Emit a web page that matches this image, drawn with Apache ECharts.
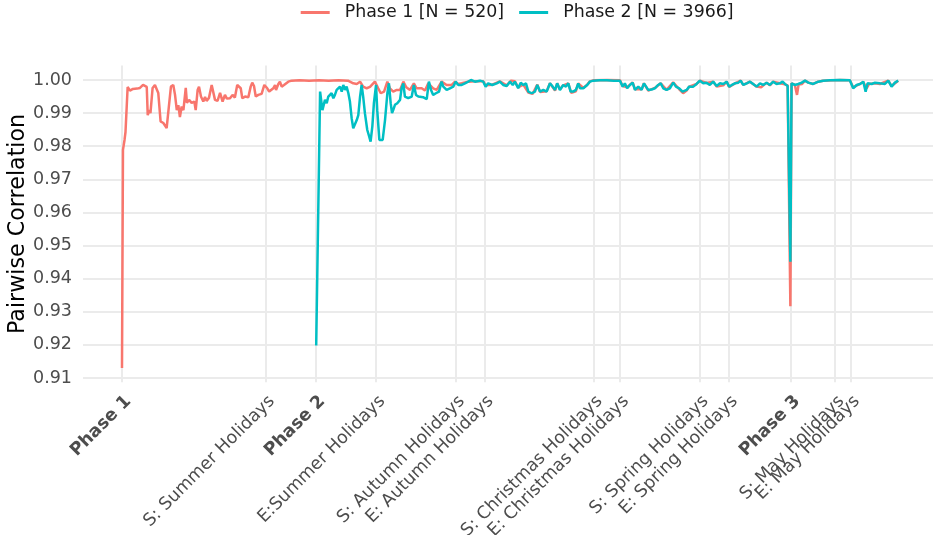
<!DOCTYPE html>
<html>
<head>
<meta charset="utf-8">
<style>
  html, body { margin: 0; padding: 0; background: #ffffff; }
  #chart { width: 933px; height: 535px; }
</style>
<script src="https://cdn.jsdelivr.net/npm/echarts@6.0.0/dist/echarts.min.js"></script>
</head>
<body>
<div id="chart"></div>
<script>
// Break positions on the time axis (days since the start of Phase 1) and their labels
const breakDays = [0, 73.7, 99.5, 130.3, 171.1, 185.8, 241.7, 255.4, 296.1, 311.1, 343.1, 365.8, 373.7];
const breakLabels = [
  'Phase 1', 'S: Summer Holidays', 'Phase 2', 'E:Summer Holidays',
  'S: Autumn Holidays', 'E: Autumn Holidays', 'S: Christmas Holidays', 'E: Christmas Holidays',
  'S: Spring Holidays', 'E: Spring Holidays', 'Phase 3', 'S: May Holidays', 'E: May Holidays'
];
const boldLabels = ['Phase 1', 'Phase 2', 'Phase 3'];
// Breaks whose labels sit on top of a neighbour and go on a second label row
const overlappingBreaks = ['S: May Holidays'];

// Correlation axis ticks
const corrTicks = [0.91, 0.92, 0.93, 0.94, 0.95, 0.96, 0.97, 0.98, 0.99, 1.00];

const seriesNames = ['Phase 1 [N = 520]', 'Phase 2 [N = 3966]'];
const seriesColors = ['#F8766D', '#00BFC4'];

// Phase 1 cohort: [day, pairwise correlation]
const phase1 = [
  [0, 0.9130], [0.5, 0.9789], [1.3, 0.9819], [1.8, 0.9843], [2.9, 0.9979], [4.1, 0.9968],
  [5.6, 0.9973], [7.7, 0.9974], [9.2, 0.9976], [10.8, 0.9985], [11.8, 0.9988], [12.7, 0.9979],
  [13.2, 0.9894], [14.0, 0.9909], [14.6, 0.9900], [15.7, 0.9976], [16.9, 0.9985], [17.9, 0.9988],
  [18.6, 0.9961], [19.8, 0.9875], [21.2, 0.9870], [22.1, 0.9876], [22.9, 0.9855], [23.8, 0.9858],
  [25.1, 0.9980], [26.3, 0.9985], [27.2, 0.9955], [28.1, 0.9909], [28.9, 0.9924], [29.7, 0.9888],
  [30.6, 0.9920], [31.5, 0.9909], [32.7, 0.9976], [33.3, 0.9931], [34.4, 0.9940], [35.7, 0.9931],
  [37.1, 0.9935], [37.8, 0.9909], [38.8, 0.9970], [39.5, 0.9980], [40.5, 0.9950], [41.7, 0.9935],
  [42.6, 0.9949], [43.4, 0.9937], [44.6, 0.9946], [46.0, 0.9985], [46.7, 0.9982], [47.7, 0.9940],
  [49.0, 0.9937], [50.3, 0.9961], [51.6, 0.9935], [52.8, 0.9955], [53.8, 0.9944], [55.4, 0.9945],
  [56.7, 0.9955], [57.9, 0.9947], [59.1, 0.9985], [60.0, 0.9990], [60.9, 0.9975], [61.7, 0.9945],
  [63.1, 0.9950], [64.8, 0.9948], [66.0, 0.9980], [66.8, 0.9992], [67.7, 0.9982], [68.6, 0.9950],
  [69.9, 0.9955], [71.6, 0.9958], [73.0, 0.9985], [73.7, 0.9990], [74.5, 0.9975], [75.5, 0.9965],
  [76.4, 0.9970], [77.6, 0.9975], [78.5, 0.9985], [79.0, 0.9970], [80.2, 0.9988], [81.0, 0.9995],
  [81.9, 0.9980], [83.1, 0.9985], [84.1, 0.9990], [85.3, 0.9995], [87.0, 0.9998], [91.0, 0.9999],
  [96.0, 0.9998], [101.0, 0.9999], [106.0, 0.9998], [111.0, 0.9999], [115.9, 0.9998], [118.6, 0.9990],
  [120.4, 0.9988], [122.1, 0.9995], [123.7, 0.9980], [125.5, 0.9975], [127.2, 0.9979], [129.7, 0.9995],
  [131.4, 0.9975], [132.7, 0.9960], [134.4, 0.9965], [136.1, 0.9995], [137.4, 0.9975], [139.1, 0.9965],
  [140.9, 0.9970], [142.6, 0.9970], [144.3, 0.9995], [145.8, 0.9978], [147.7, 0.9970], [149.7, 0.9990],
  [151.1, 0.9975], [153.7, 0.9975], [155.4, 0.9968], [157.1, 0.9990], [159.6, 0.9975], [161.4, 0.9970],
  [163.9, 0.9995], [166.5, 0.9985], [169.1, 0.9985], [170.8, 0.9995], [172.5, 0.9988], [174.2, 0.9990],
  [177.6, 0.9995], [181.0, 0.9996], [185.3, 0.9996], [186.5, 0.9984], [189.9, 0.9986], [193.8, 0.9996],
  [197.3, 0.9984], [199.5, 0.9998], [201.5, 0.9996], [203.2, 0.9978], [205.8, 0.9986], [208.4, 0.9962],
  [210.6, 0.9958], [213.0, 0.9986], [214.4, 0.9964], [217.8, 0.9966], [219.5, 0.9990], [222.1, 0.9968],
  [223.2, 0.9990], [224.6, 0.9972], [226.3, 0.9984], [228.9, 0.9990], [230.4, 0.9961], [232.8, 0.9966],
  [234.0, 0.9990], [236.6, 0.9976], [238.6, 0.9986], [240.0, 0.9996], [241.7, 0.9999], [248.7, 1.0000],
  [255.4, 0.9999], [256.8, 0.9982], [259.1, 0.9978], [261.9, 0.9993], [263.1, 0.9972], [266.5, 0.9972],
  [267.7, 0.9990], [269.9, 0.9968], [273.3, 0.9976], [276.3, 0.9990], [279.3, 0.9970], [282.7, 0.9993],
  [285.8, 0.9972], [287.8, 0.9960], [289.6, 0.9968], [290.9, 0.9980], [294.7, 0.9988], [296.4, 0.9998],
  [299.8, 0.9991], [303.2, 0.9995], [305.0, 0.9980], [308.4, 0.9984], [310.1, 0.9995], [311.4, 0.9979],
  [314.4, 0.9990], [317.3, 0.9998], [318.6, 0.9985], [322.1, 0.9995], [325.5, 0.9980], [327.8, 0.9978],
  [330.6, 0.9992], [332.3, 0.9984], [334.0, 0.9995], [337.4, 0.9990], [340.0, 0.9987], [341.4, 0.9984],
  [342.3, 0.9988], [342.8, 0.9317], [343.4, 0.9990], [345.1, 0.9985], [346.2, 0.9955], [347.0, 0.9986],
  [348.8, 0.9988], [350.3, 0.9998], [352.0, 0.9992], [354.5, 0.9988], [355.3, 0.9984], [357.1, 0.9995],
  [359.6, 0.9998], [368.2, 1.0000], [373.3, 0.9999], [375.0, 0.9978], [378.5, 0.9988], [380.2, 0.9994],
  [381.9, 0.9975], [383.2, 0.9988], [386.2, 0.9990], [388.7, 0.9988], [393.0, 0.9998], [394.7, 0.9982],
  [398.1, 0.9998]
];

// Phase 2 cohort: [day, pairwise correlation]
const phase2 = [
  [99.6, 0.9198], [101.6, 0.9965], [102.8, 0.9909], [104.1, 0.9940], [105.0, 0.9930], [105.8, 0.9950],
  [106.7, 0.9955], [107.5, 0.9960], [108.4, 0.9945], [109.2, 0.9955], [110.1, 0.9970], [110.9, 0.9975],
  [111.8, 0.9980], [112.7, 0.9965], [113.5, 0.9985], [114.4, 0.9970], [115.2, 0.9980], [116.1, 0.9960],
  [116.9, 0.9935], [117.8, 0.9884], [118.6, 0.9854], [119.5, 0.9860], [120.4, 0.9879], [121.2, 0.9894],
  [122.1, 0.9950], [122.9, 0.9985], [123.7, 0.9950], [124.6, 0.9899], [125.8, 0.9849], [126.8, 0.9829],
  [127.5, 0.9814], [128.4, 0.9860], [129.2, 0.9930], [130.3, 0.9985], [130.9, 0.9909], [132.0, 0.9819],
  [132.7, 0.9814], [133.7, 0.9819], [134.9, 0.9879], [136.1, 0.9960], [136.9, 0.9990], [137.8, 0.9930],
  [138.5, 0.9900], [139.1, 0.9909], [140.0, 0.9925], [141.2, 0.9930], [142.6, 0.9940], [143.4, 0.9975],
  [144.3, 0.9990], [145.1, 0.9950], [146.8, 0.9945], [148.6, 0.9950], [149.7, 0.9985], [150.8, 0.9955],
  [152.0, 0.9950], [152.8, 0.9945], [154.4, 0.9948], [156.3, 0.9942], [157.4, 0.9995], [158.5, 0.9970],
  [159.6, 0.9955], [161.0, 0.9960], [162.6, 0.9965], [163.9, 0.9995], [164.8, 0.9980], [166.5, 0.9970],
  [168.2, 0.9975], [169.9, 0.9980], [171.1, 0.9995], [172.5, 0.9985], [174.2, 0.9985], [175.9, 0.9990],
  [177.6, 0.9995], [179.0, 1.0000], [181.0, 0.9995], [183.6, 0.9998], [185.3, 0.9995], [186.5, 0.9980],
  [187.8, 0.9990], [189.9, 0.9985], [192.2, 0.9990], [193.8, 0.9995], [195.5, 0.9985], [197.3, 0.9982],
  [199.0, 0.9995], [200.4, 0.9985], [201.5, 0.9995], [203.2, 0.9975], [204.5, 0.9992], [205.8, 0.9985],
  [207.2, 0.9990], [208.4, 0.9965], [210.1, 0.9960], [211.8, 0.9965], [213.0, 0.9985], [214.4, 0.9965],
  [216.1, 0.9970], [217.8, 0.9965], [219.5, 0.9990], [220.9, 0.9980], [222.1, 0.9970], [223.2, 0.9990],
  [224.6, 0.9970], [226.3, 0.9985], [227.7, 0.9980], [228.9, 0.9990], [230.1, 0.9965], [231.4, 0.9965],
  [232.8, 0.9970], [234.0, 0.9990], [234.9, 0.9975], [236.6, 0.9975], [238.6, 0.9985], [240.0, 0.9995],
  [241.7, 0.9998], [245.1, 0.9999], [248.7, 0.9999], [252.3, 0.9998], [255.4, 0.9998], [256.8, 0.9980],
  [257.9, 0.9990], [259.1, 0.9975], [260.5, 0.9985], [261.9, 0.9992], [263.1, 0.9970], [264.8, 0.9980],
  [266.5, 0.9970], [267.7, 0.9990], [268.7, 0.9995], [269.9, 0.9970], [271.6, 0.9971], [273.3, 0.9975],
  [275.0, 0.9985], [276.3, 0.9990], [277.6, 0.9975], [279.3, 0.9970], [281.0, 0.9975], [282.7, 0.9992],
  [284.1, 0.9980], [285.8, 0.9975], [287.5, 0.9965], [289.6, 0.9970], [290.9, 0.9980], [293.0, 0.9980],
  [294.7, 0.9988], [296.4, 0.9998], [298.1, 0.9990], [299.8, 0.9992], [301.5, 0.9985], [303.2, 0.9995],
  [305.0, 0.9982], [306.7, 0.9990], [308.4, 0.9988], [310.1, 0.9995], [311.4, 0.9980], [312.8, 0.9985],
  [314.4, 0.9990], [316.1, 0.9992], [317.3, 0.9998], [318.6, 0.9985], [320.4, 0.9990], [322.1, 0.9995],
  [323.7, 0.9988], [325.5, 0.9980], [327.2, 0.9990], [328.9, 0.9985], [330.6, 0.9992], [332.3, 0.9985],
  [334.0, 0.9995], [335.7, 0.9988], [337.4, 0.9990], [338.8, 0.9995], [340.0, 0.9988], [341.4, 0.9982],
  [342.3, 0.9988], [342.8, 0.9451], [343.4, 0.9990], [345.1, 0.9985], [346.8, 0.9988], [348.6, 0.9992],
  [350.3, 0.9998], [352.0, 0.9992], [354.5, 0.9988], [357.1, 0.9995], [359.6, 0.9998], [363.1, 0.9999],
  [368.2, 1.0000], [373.3, 0.9999], [374.2, 0.9998], [375.0, 0.9975], [376.8, 0.9985], [378.5, 0.9988],
  [380.2, 0.9995], [381.4, 0.9965], [382.4, 0.9990], [384.5, 0.9988], [386.2, 0.9992], [388.7, 0.9990],
  [391.3, 0.9988], [393.0, 0.9998], [394.7, 0.9980], [396.4, 0.9992], [398.1, 0.9998]
];

const FONT = 'DejaVu Sans';
const GRID_COLOR = '#EBEBEB';
const TICK_COLOR = '#4D4D4D';
const X_MIN = -20;
const X_MAX = 418;

function breakLabel(v) {
  const i = breakDays.indexOf(v);
  const text = i >= 0 ? breakLabels[i] : '';
  return boldLabels.indexOf(text) >= 0 ? '{b|' + text + '}' : text;
}

const mainLabelDays = breakDays.filter((d, i) => overlappingBreaks.indexOf(breakLabels[i]) < 0);
const extraLabelDays = breakDays.filter((d, i) => overlappingBreaks.indexOf(breakLabels[i]) >= 0);

const xLabelStyle = {
  rotate: 45,
  margin: 10,
  verticalAlign: 'top',
  hideOverlap: false,
  showMinLabel: true,
  showMaxLabel: true,
  fontFamily: FONT,
  fontSize: 17.5,
  color: TICK_COLOR,
  formatter: breakLabel,
  rich: {
    b: { fontFamily: FONT, fontSize: 17.5, fontWeight: 'bold', color: TICK_COLOR, verticalAlign: 'top' }
  }
};

const chart = echarts.init(document.getElementById('chart'), null, { renderer: 'canvas' });

chart.setOption({
  animation: false,
  backgroundColor: '#ffffff',
  legend: {
    left: 300.7,
    top: 4,
    padding: 0,
    itemWidth: 29,
    itemHeight: 3,
    itemGap: 15,
    icon: 'rect',
    data: seriesNames,
    textStyle: { fontFamily: FONT, fontSize: 17.4, color: '#1a1a1a', padding: [0, 0, 0, 10] }
  },
  grid: {
    left: 83, top: 65.6, width: 854, height: 316.7,
    containLabel: false,
    outerBoundsMode: 'none'
  },
  xAxis: [
    {
      type: 'value',
      min: X_MIN,
      max: X_MAX,
      axisLine: { show: false },
      axisTick: { show: false, customValues: breakDays },
      splitLine: { show: true, lineStyle: { color: GRID_COLOR, width: 2 } },
      axisLabel: Object.assign({ customValues: mainLabelDays }, xLabelStyle)
    },
    {
      type: 'value',
      position: 'bottom',
      min: X_MIN,
      max: X_MAX,
      axisLine: { show: false },
      axisTick: { show: false, customValues: extraLabelDays },
      splitLine: { show: false },
      axisLabel: Object.assign({ customValues: extraLabelDays }, xLabelStyle)
    }
  ],
  yAxis: {
    type: 'value',
    min: 0.9087,
    max: 1.00435,
    name: 'Pairwise Correlation',
    nameLocation: 'middle',
    nameGap: 54,
    nameMoveOverlap: false,
    nameTextStyle: { fontFamily: FONT, fontSize: 22.2, color: '#000000' },
    axisLine: { show: false },
    axisTick: { show: false, customValues: corrTicks },
    splitLine: { show: true, lineStyle: { color: GRID_COLOR, width: 2 } },
    axisLabel: {
      customValues: corrTicks,
      margin: 11,
      fontFamily: FONT,
      fontSize: 17.5,
      color: TICK_COLOR,
      formatter: function (v) { return v.toFixed(2); }
    }
  },
  series: [
    {
      name: seriesNames[0],
      type: 'line',
      xAxisIndex: 0,
      data: phase1,
      showSymbol: false,
      symbol: 'none',
      color: seriesColors[0],
      lineStyle: { width: 2.5, color: seriesColors[0] },
      z: 2
    },
    {
      name: seriesNames[1],
      type: 'line',
      xAxisIndex: 0,
      data: phase2,
      showSymbol: false,
      symbol: 'none',
      color: seriesColors[1],
      lineStyle: { width: 2.5, color: seriesColors[1] },
      z: 3
    }
  ]
});
</script>
</body>
</html>
